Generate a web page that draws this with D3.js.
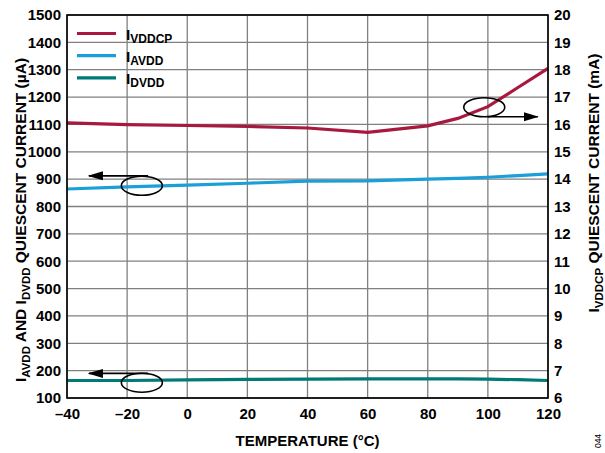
<!DOCTYPE html>
<html><head><meta charset="utf-8">
<script src="https://cdn.jsdelivr.net/npm/d3@7"></script>
<style>
body{margin:0;background:#fff;}
text{font-family:"Liberation Sans",Arial,sans-serif;font-weight:bold;fill:#000;}
</style></head>
<body>
<svg id="c" width="605" height="453"></svg>
<script>
// ---- data ----
const temps = [-40, -20, 0, 20, 40, 60, 80, 90, 100, 110, 120];
const iVDDCP = [16.06, 15.99, 15.96, 15.93, 15.87, 15.71, 15.95, 16.22, 16.65, 17.35, 18.05]; // mA, right axis
const iAVDD  = [864, 872, 878, 885, 893, 894, 900, 903, 907, 913, 919]; // µA, left axis
const iDVDD  = [164, 164, 166, 168, 169, 170, 170, 170, 169, 167, 164]; // µA, left axis
const xTicks = [-40, -20, 0, 20, 40, 60, 80, 100, 120];
const yLeftTicks = [100,200,300,400,500,600,700,800,900,1000,1100,1200,1300,1400,1500];
const yRightTicks = [6,7,8,9,10,11,12,13,14,15,16,17,18,19,20];
const seriesNames = ["VDDCP", "AVDD", "DVDD"];
const colors = {VDDCP:"#a8193f", AVDD:"#1a9fd8", DVDD:"#007a74"};

// annotations in data units: ellipse center + arrow from/to, axis side
const annotations = [
  {cx:-15.1, cy:876, ax1:-13, ax2:-32.7, ay:912, axis:"left"},
  {cx:-15.1, cy:156, ax1:-13, ax2:-32.7, ay:190, axis:"left"},
  {cx:98.8, cy:16.63, ax1:100, ax2:116.6, ay:16.28, axis:"right"}
];

const svg = d3.select("#c");
const m = {l:67, r:57, t:15, b:55};
const W = 605, H = 453;
const x = d3.scaleLinear().domain([-40,120]).range([m.l, W-m.r]);
const yL = d3.scaleLinear().domain([100,1500]).range([H-m.b, m.t]);
const yR = d3.scaleLinear().domain([6,20]).range([H-m.b, m.t]);

// grid
const g = svg.append("g");
g.selectAll("line.v").data(xTicks).join("line")
  .attr("x1",d=>x(d)).attr("x2",d=>x(d)).attr("y1",m.t).attr("y2",H-m.b)
  .attr("stroke","#808080").attr("stroke-width",1.3);
g.selectAll("line.h").data(yLeftTicks).join("line")
  .attr("y1",d=>yL(d)).attr("y2",d=>yL(d)).attr("x1",m.l).attr("x2",W-m.r)
  .attr("stroke","#808080").attr("stroke-width",1.3);

// axes labels via d3 axes
const fs = 15;
const axL = svg.append("g").attr("transform",`translate(${m.l},0)`)
  .call(d3.axisLeft(yL).tickValues(yLeftTicks).tickFormat(d3.format("d")).tickSize(0).tickPadding(6));
const axR = svg.append("g").attr("transform",`translate(${W-m.r},0)`)
  .call(d3.axisRight(yR).tickValues(yRightTicks).tickFormat(d3.format("d")).tickSize(0).tickPadding(6));
const axB = svg.append("g").attr("transform",`translate(0,${H-m.b})`)
  .call(d3.axisBottom(x).tickValues(xTicks).tickSize(0).tickPadding(10)
    .tickFormat(d=> d<0 ? "\u2013"+Math.abs(d) : String(d)));
[axL,axR,axB].forEach(a=>{
  a.select(".domain").remove();
  a.selectAll("text").style("font-size",fs+"px").style("font-family","Liberation Sans, Arial, sans-serif").style("font-weight","bold").attr("fill","#000");
});

// lines
const line = (ys, sc) => d3.line().x((d,i)=>x(temps[i])).y(d=>sc(d))(ys);
const lw = 3.2;
svg.append("path").attr("d",line(iDVDD,yL)).attr("fill","none").attr("stroke",colors.DVDD).attr("stroke-width",lw);
svg.append("path").attr("d",line(iAVDD,yL)).attr("fill","none").attr("stroke",colors.AVDD).attr("stroke-width",lw);
svg.append("path").attr("d",line(iVDDCP,yR)).attr("fill","none").attr("stroke",colors.VDDCP).attr("stroke-width",lw);

// frame
svg.append("rect").attr("x",m.l).attr("y",m.t).attr("width",W-m.l-m.r).attr("height",H-m.t-m.b)
  .attr("fill","none").attr("stroke","#000").attr("stroke-width",1.6);

// annotations
const defs = svg.append("defs");
defs.append("marker").attr("id","ah").attr("viewBox","0 0 15 10").attr("refX",14).attr("refY",5)
  .attr("markerWidth",15).attr("markerHeight",10).attr("markerUnits","userSpaceOnUse").attr("orient","auto")
  .append("path").attr("d","M0,0.5 L15,5 L0,9.5 z").attr("fill","#000");
annotations.forEach(a=>{
  const sc = a.axis==="left"?yL:yR;
  svg.append("ellipse").attr("cx",x(a.cx)).attr("cy",sc(a.cy)).attr("rx",20.5).attr("ry",9.5)
    .attr("fill","none").attr("stroke","#000").attr("stroke-width",1.6);
  svg.append("line").attr("x1",x(a.ax1)).attr("x2",x(a.ax2)).attr("y1",sc(a.ay)).attr("y2",sc(a.ay))
    .attr("stroke","#000").attr("stroke-width",1.6).attr("marker-end","url(#ah)");
});

// legend
const lg = svg.append("g");
seriesNames.forEach((s,i)=>{
  const yy = 33.5 + i*22.2;
  lg.append("line").attr("x1",77).attr("x2",116).attr("y1",yy).attr("y2",yy)
    .attr("stroke",colors[s]).attr("stroke-width",3.2);
  const t = lg.append("text").attr("x",126).attr("y",yy+6).style("font-size","15.5px");
  t.append("tspan").text("I");
  t.append("tspan").attr("dy",3.5).style("font-size","12px").text(s);
});

// axis titles
const tl = svg.append("text").attr("transform",`translate(26,220) rotate(-90)`)
  .attr("text-anchor","middle").style("font-size","15.5px");
tl.append("tspan").text("I");
tl.append("tspan").attr("dy",3.5).style("font-size","11.5px").text("AVDD");
tl.append("tspan").attr("dy",-3.5).text(" AND I");
tl.append("tspan").attr("dy",3.5).style("font-size","11.5px").text("DVDD");
tl.append("tspan").attr("dy",-3.5).text(" QUIESCENT CURRENT (µA)");

const tr = svg.append("text").attr("transform",`translate(599,183) rotate(-90)`)
  .attr("text-anchor","middle").style("font-size","15.5px");
tr.append("tspan").text("I");
tr.append("tspan").attr("dy",3.5).style("font-size","11.5px").text("VDDCP");
tr.append("tspan").attr("dy",-3.5).text(" QUIESCENT CURRENT (mA)");

svg.append("text").attr("x",(m.l+W-m.r)/2).attr("y",446).attr("text-anchor","middle")
  .style("font-size","15px").text("TEMPERATURE (°C)");

svg.append("text").attr("transform","translate(601,441) rotate(-90)").attr("text-anchor","middle")
  .style("font-size","8.5px").style("font-weight","normal").attr("fill","#555").text("044");
</script>
</body></html>
